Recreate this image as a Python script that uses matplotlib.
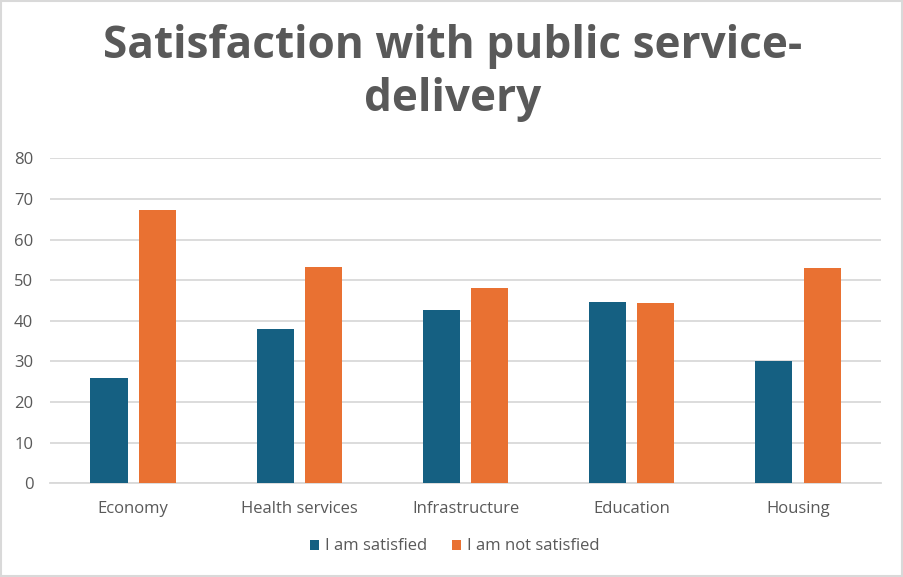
import matplotlib
matplotlib.use("Agg")
import matplotlib.pyplot as plt
import numpy as np

categories = ["Economy", "Health services", "Infrastructure", "Education", "Housing"]
satisfied = [25.8, 38.1, 42.6, 44.7, 30.1]
not_satisfied = [67.3, 53.2, 48.0, 44.5, 53.0]
series_names = ["I am satisfied", "I am not satisfied"]
y_ticks = [0, 10, 20, 30, 40, 50, 60, 70, 80]

blue = "#156082"
orange = "#E97132"
text_gray = "#595959"
grid_gray = "#D9D9D9"

plt.rcParams["font.family"] = ["Open Sans", "DejaVu Sans"]

fig = plt.figure(figsize=(9.04, 5.77), dpi=100)
ax = fig.add_axes([0.0553, 0.1624, 0.9193, 0.5632])

x = np.arange(len(categories))
width = 0.223
offset = 0.145
ax.bar(x - offset, satisfied, width, color=blue, label=series_names[0], zorder=3)
ax.bar(x + offset, not_satisfied, width, color=orange, label=series_names[1], zorder=3)

ax.set_xlim(-0.5, len(categories) - 0.5)
ax.set_ylim(0, 80)
ax.set_yticks(y_ticks)
ax.set_xticks(x)
ax.set_xticklabels(categories)
ax.grid(axis="y", color=grid_gray, linewidth=1.3, zorder=0)
for side in ["top", "right", "left"]:
    ax.spines[side].set_visible(False)
ax.spines["bottom"].set_color(grid_gray)
ax.spines["bottom"].set_linewidth(1.3)
ax.tick_params(axis="both", length=0, labelsize=12, colors=text_gray)
ax.tick_params(axis="x", pad=13)
ax.tick_params(axis="y", pad=12)

fig.text(0.501, 0.958, "Satisfaction with public service-\ndelivery", ha="center", va="top",
         fontsize=31.8, fontweight="bold", color=text_gray, linespacing=1.22)

leg = fig.legend(loc="center", bbox_to_anchor=(0.503, 0.053), ncol=2, frameon=False,
                 fontsize=12, handlelength=0.55, handleheight=0.55, handletextpad=0.35,
                 columnspacing=1.5)
for t in leg.get_texts():
    t.set_color(text_gray)

fig.patches.append(plt.Rectangle((0.001, 0.001), 0.997, 0.997, transform=fig.transFigure,
                                 fill=False, edgecolor=grid_gray, linewidth=1.5))

fig.savefig("out.png", dpi=100)
